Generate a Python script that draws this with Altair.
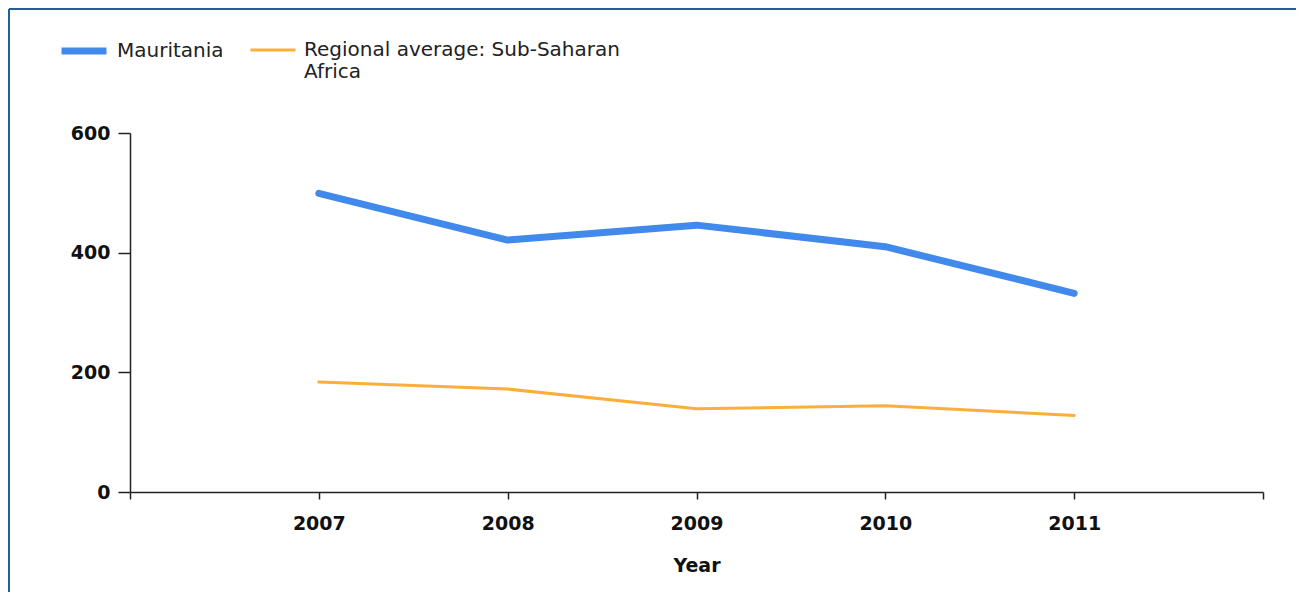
import altair as alt
import pandas as pd

years = [2007, 2008, 2009, 2010, 2011]
mauritania = [499, 421, 446, 410, 332]
ssa_average = [184, 172, 139, 144, 128]
series_names = ["Mauritania", "Regional average: Sub-Saharan Africa"]
series_colors = ["#4189eb", "#fbae3c"]
series_widths = [7, 3]
x_ticks = [2006, 2007, 2008, 2009, 2010, 2011, 2012]
y_ticks = [0, 200, 400, 600]

rows = []
for y, v in zip(years, mauritania):
    rows.append({"Year": y, "value": v, "series": series_names[0]})
for y, v in zip(years, ssa_average):
    rows.append({"Year": y, "value": v, "series": series_names[1]})
df = pd.DataFrame(rows)

AX_FONT = "DejaVu Sans"

lines = alt.Chart(df).mark_line(strokeCap="round", strokeJoin="round").encode(
    x=alt.X(
        "Year:Q",
        scale=alt.Scale(domain=[2006, 2012], nice=False, zero=False),
        axis=alt.Axis(
            values=x_ticks,
            format="d",
            labelExpr="datum.value == 2006 || datum.value == 2012 ? '' : datum.label",
            grid=False,
            tickSize=7,
            labelPadding=15,
            titlePadding=23,
            title="Year",
        ),
    ),
    y=alt.Y(
        "value:Q",
        scale=alt.Scale(domain=[0, 600], nice=False),
        axis=alt.Axis(values=y_ticks, grid=False, tickSize=12, labelPadding=8, title=None),
    ),
    color=alt.Color(
        "series:N",
        scale=alt.Scale(domain=series_names, range=series_colors),
        legend=alt.Legend(
            title=None,
            orient="none",
            direction="horizontal",
            legendX=-72,
            legendY=-108,
            symbolType="stroke",
            symbolSize=2025,
            labelOffset=7,
            columnPadding=20,
            padding=0,
            labelExpr="datum.label == 'Regional average: Sub-Saharan Africa' ? ['Regional average: Sub-Saharan', 'Africa'] : [datum.label, '']",
        ),
    ),
    strokeWidth=alt.StrokeWidth(
        "series:N",
        scale=alt.Scale(domain=series_names, range=series_widths),
    ),
)

frame_left = alt.Chart(df).mark_rule(color="#1f5f9f", strokeWidth=2).encode(
    x=alt.value(-121), y=alt.value(-124), y2=alt.value(480)
)
frame_top = alt.Chart(df).mark_rule(color="#1f5f9f", strokeWidth=2).encode(
    x=alt.value(-121), x2=alt.value(1180), y=alt.value(-124)
)

chart = alt.layer(frame_left, frame_top, lines).properties(
    width=1133,
    height=359,
    autosize=alt.AutoSizeParams(type="none"),
    padding={"left": 122, "top": 125, "right": 33, "bottom": 100},
).configure_view(stroke="transparent").configure_axis(
    domainColor="#222222",
    domainWidth=1.5,
    tickColor="#222222",
    tickWidth=1.5,
    labelFont=AX_FONT,
    labelFontWeight="bold",
    labelFontSize=19,
    labelColor="#111111",
    titleFont=AX_FONT,
    titleFontWeight="bold",
    titleFontSize=19,
    titleColor="#111111",
).configure_legend(
    labelFont=AX_FONT,
    labelFontSize=20,
    labelColor="#222222",
    labelLimit=400,
)

chart.save("out.html", embed_options={"renderer": "svg", "actions": False})
